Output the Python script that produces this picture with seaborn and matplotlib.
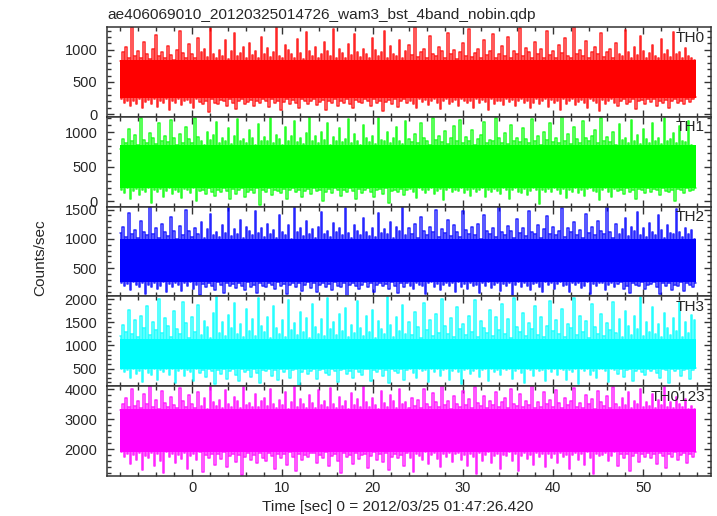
import matplotlib
matplotlib.use("Agg")
import matplotlib.pyplot as plt
import numpy as np
import seaborn as sns
from matplotlib.ticker import MultipleLocator

# light curves: alternating bin maxima (hi) and minima (lo)
th0_hi = [830, 960, 1040, 880, 1350, 910, 990, 870, 1120, 940, 860, 1010, 1230, 900, 970, 880,
          1060, 920, 850, 1000, 1290, 950, 880, 1090, 930, 870, 1180, 960, 1020, 890, 1340, 940,
          870, 1000, 910, 1150, 860, 980, 1260, 900, 950, 1040, 880, 1110, 920, 990, 870, 1200,
          940, 1030, 890, 960, 1350, 910, 870, 1070, 1000, 930, 880, 1170, 950, 860, 1280, 990,
          900, 1050, 870, 940, 1130, 980, 910, 1320, 880, 1010, 950, 870, 1090, 920, 1240, 960,
          890, 1020, 930, 870, 1190, 1000, 900, 960, 1300, 880, 1060, 940, 910, 1150, 870, 990,
          1080, 920, 1350, 890, 960, 1010, 870, 1210, 940, 900, 1040, 980, 880, 1270, 930, 1000,
          860, 970, 1100, 910, 1330, 890, 950, 1020, 870, 1160, 920, 990, 1250, 880, 940, 1060,
          910, 1200, 870, 980, 930, 1340, 900, 1030, 960, 880, 1120, 940, 1010, 870, 1290, 920,
          990, 880, 1070, 950, 1180, 900, 870, 1350, 940, 1000, 910, 1140, 880, 960, 1050, 930,
          1260, 890, 970, 1020, 870, 1110, 940, 900, 1310, 960, 880, 1040, 920, 1220, 990, 870,
          950, 1080, 910, 880, 1170, 940, 1000, 890, 1280, 930, 960, 870, 1030, 900, 880, 850]
th0_lo = [240, 180, 210, 130, 200, 160, 230, 90, 190, 220, 150, 240, 110, 200, 170, 230,
          60, 210, 180, 240, 140, 200, 220, 170, 100, 230, 190, 150, 210, 40, 240, 180,
          160, 220, 200, 120, 230, 180, 80, 210, 240, 150, 190, 220, 130, 200, 170, 240,
          200, 110, 230, 170, 210, 60, 190, 240, 150, 220, 180, 100, 230, 200, 160, 210,
          240, 140, 190, 220, 70, 200, 170, 230, 120, 210, 180, 240, 150, 90, 220, 190,
          170, 230, 200, 130, 240, 180, 210, 50, 190, 220, 160, 230, 110, 200, 240, 180,
          210, 160, 90, 230, 190, 220, 140, 200, 240, 170, 80, 210, 230, 150, 190, 220,
          130, 240, 200, 180, 210, 100, 230, 170, 220, 190, 60, 240, 160, 210, 200, 140,
          230, 190, 220, 120, 200, 240, 170, 210, 90, 180, 230, 150, 200, 240, 110, 220,
          180, 210, 70, 230, 160, 200, 240, 140, 190, 220, 180, 100, 230, 210, 170, 50,
          220, 150, 200, 240, 180, 120, 210, 230, 160, 190, 240, 80, 200, 220, 150, 230,
          190, 240, 130, 210, 180, 220, 100, 200, 240, 170, 210, 150, 230, 190, 240, 260]
th1_hi = [760, 900, 840, 1050, 870, 960, 820, 1200, 890, 850, 990, 920, 830, 1130, 880, 940,
          860, 1180, 910, 820, 970, 850, 1080, 900, 840, 1210, 930, 870, 810, 1010, 890, 960,
          1150, 850, 920, 880, 1060, 830, 950, 1190, 870, 900, 840, 1040, 910, 820, 1120, 880,
          930, 870, 1200, 850, 960, 900, 820, 1080, 880, 940, 1170, 860, 910, 830, 990, 1220,
          870, 950, 840, 1010, 890, 1140, 820, 930, 880, 1060, 860, 900, 1190, 840, 970, 880,
          820, 1100, 910, 860, 940, 830, 1210, 890, 870, 1000, 850, 920, 1070, 880, 830, 1160,
          900, 860, 980, 840, 1130, 910, 870, 820, 1200, 890, 950, 860, 1020, 830, 920, 1090,
          880, 1180, 850, 930, 870, 1040, 820, 900, 960, 1150, 840, 890, 870, 1210, 910, 850,
          990, 830, 1110, 880, 920, 860, 1060, 900, 840, 1190, 870, 950, 820, 1000, 890, 1140,
          860, 910, 840, 1220, 880, 970, 830, 1080, 900, 850, 1170, 920, 870, 940, 1030, 840,
          1200, 880, 930, 860, 1010, 820, 1120, 890, 910, 850, 1180, 870, 960, 830, 1050, 900,
          850, 1140, 880, 920, 830, 1210, 870, 900, 990, 840, 1090, 880, 860, 1160, 820, 780]
th1_lo = [160, 120, 190, 30, 150, 180, 90, 170, 140, 190, -20, 160, 130, 180, 60, 150,
          190, 110, 170, 140, 50, 180, 160, 120, 190, 0, 150, 170, 100, 190, 140, 80,
          170, 130, 190, 150, 40, 180, 110, 160, 190, 70, 140, 170, 120, 190, -50, 160,
          140, 190, 90, 170, 150, 120, 180, 30, 160, 190, 130, 170, 60, 150, 180, 110,
          190, 150, 170, 10, 140, 180, 120, 190, 160, 80, 170, 130, 190, 150, 40, 180,
          120, 170, 190, 140, 70, 160, 180, 110, 190, -30, 150, 170, 130, 180, 90, 160,
          180, 140, 50, 190, 160, 120, 170, 190, 100, 150, 180, 20, 160, 190, 130, 170,
          150, 190, 120, 170, 80, 180, 140, 160, 190, 60, 170, 130, 180, 150, 110, 190,
          170, 30, 160, 190, 140, 120, 180, 90, 150, 190, 170, -40, 160, 130, 180, 140,
          190, 160, 110, 180, 50, 170, 140, 190, 120, 160, 80, 180, 190, 150, 130, 20,
          160, 190, 140, 70, 180, 150, 170, 110, 190, 130, 160, 40, 180, 170, 120, 190,
          140, 180, 160, 90, 190, 150, 130, 170, 0, 180, 160, 120, 190, 150, 170, 200]
th2_hi = [1100, 1200, 1030, 1450, 1080, 1150, 1010, 1300, 1120, 1060, 1550, 1090, 1180, 1020, 1250, 1110,
          1050, 1380, 1130, 1000, 1220, 1070, 1500, 1140, 1040, 1190, 1090, 1280, 1010, 1160, 1420, 1060,
          1120, 1030, 1240, 1100, 1550, 1050, 1170, 1080, 1330, 1020, 1210, 1130, 1060, 1480, 1100, 1190,
          1040, 1260, 1090, 1150, 1010, 1400, 1120, 1070, 1230, 1000, 1550, 1110, 1180, 1050, 1310, 1080,
          1160, 1020, 1200, 1460, 1090, 1130, 1040, 1270, 1110, 1180, 1060, 1520, 1100, 1010, 1240, 1140,
          1070, 1350, 1120, 1050, 1190, 1030, 1440, 1100, 1160, 1080, 1290, 1020, 1210, 1130, 1550, 1060,
          1190, 1090, 1250, 1010, 1370, 1140, 1070, 1210, 1110, 1500, 1040, 1170, 1100, 1320, 1050, 1230,
          1120, 1030, 1480, 1150, 1080, 1200, 1060, 1260, 1000, 1410, 1130, 1090, 1180, 1040, 1550, 1110,
          1070, 1220, 1140, 1020, 1340, 1100, 1190, 1050, 1470, 1120, 1080, 1240, 1010, 1160, 1390, 1090,
          1200, 1060, 1130, 1530, 1040, 1180, 1110, 1280, 1070, 1150, 1020, 1430, 1100, 1210, 1060, 1300,
          1140, 1080, 1550, 1120, 1010, 1250, 1090, 1170, 1360, 1050, 1200, 1130, 1460, 1070, 1190, 1030,
          1270, 1110, 1060, 1400, 1150, 1020, 1230, 1100, 1080, 1510, 1120, 1040, 1180, 1090, 1150, 1000]
th2_lo = [250, 190, 230, 120, 260, 210, 170, 240, 60, 220, 180, 250, 140, 200, 260, 90,
          230, 170, 250, 210, 110, 240, 190, 260, 150, 220, 40, 230, 180, 250, 200, 130,
          260, 210, 80, 240, 190, 230, 160, 250, 200, 120, 260, 180, 220, 70, 240, 200,
          170, 250, 220, 140, 260, 190, 230, 50, 210, 250, 180, 240, 110, 220, 260, 160,
          240, 90, 210, 250, 180, 230, 130, 260, 200, 170, 250, 30, 220, 240, 190, 150,
          220, 260, 170, 240, 100, 210, 250, 190, 230, 140, 260, 200, 80, 240, 180, 250,
          200, 150, 250, 220, 190, 60, 240, 260, 170, 230, 120, 210, 250, 190, 240, 90,
          260, 180, 230, 140, 250, 200, 220, 70, 240, 190, 260, 160, 210, 250, 110, 230,
          190, 250, 40, 220, 260, 170, 240, 200, 130, 230, 250, 180, 90, 260, 210, 240,
          150, 230, 260, 190, 220, 100, 250, 210, 240, 160, 200, 260, 60, 230, 190, 250,
          240, 120, 210, 250, 180, 230, 260, 150, 200, 80, 240, 220, 190, 260, 140, 210,
          230, 260, 170, 50, 240, 200, 250, 130, 220, 190, 260, 110, 240, 210, 180, 250]
th3_hi = [1200, 1450, 1300, 1780, 1250, 1550, 1180, 1650, 1380, 1850, 1220, 1500, 1330, 2000, 1270, 1600,
          1420, 1190, 1750, 1350, 1260, 1950, 1480, 1160, 1620, 1300, 1880, 1230, 1540, 1400, 1170, 1700,
          2050, 1280, 1510, 1200, 1660, 1370, 1930, 1240, 1460, 1180, 1790, 1320, 1570, 1210, 2020, 1430,
          1290, 1620, 1160, 1850, 1390, 1250, 1550, 1190, 1990, 1340, 1480, 1220, 1720, 1300, 1600, 1170,
          1900, 1410, 1260, 1580, 1200, 2040, 1360, 1500, 1230, 1680, 1320, 1810, 1180, 1450, 1270, 1960,
          1380, 1210, 1640, 1290, 1760, 1170, 1530, 1350, 1240, 2050, 1440, 1190, 1610, 1310, 1870, 1260,
          1500, 1230, 1730, 1400, 1160, 1920, 1330, 1560, 1200, 1690, 1280, 2010, 1420, 1250, 1590, 1180,
          1840, 1360, 1470, 1220, 1650, 1300, 1980, 1190, 1540, 1390, 1270, 1770, 1210, 1620, 1340, 1900,
          1240, 1580, 1170, 2040, 1410, 1290, 1700, 1200, 1490, 1350, 1860, 1230, 1610, 1180, 1430, 1970,
          1320, 1550, 1260, 1800, 1190, 1470, 1380, 2030, 1220, 1640, 1300, 1530, 1170, 1910, 1400, 1250,
          1680, 1210, 1490, 1340, 1950, 1270, 1570, 1180, 1750, 1420, 1230, 1630, 1360, 2050, 1200, 1510,
          1290, 1830, 1250, 1460, 1180, 1710, 1370, 1220, 1600, 1310, 1940, 1190, 1520, 1280, 1660, 1550]
th3_lo = [500, 430, 470, 300, 490, 380, 450, 200, 480, 410, 350, 500, 260, 460, 420, 490,
          370, 480, 180, 450, 500, 330, 470, 420, 240, 490, 400, 460, 310, 500, 440, 160,
          470, 390, 500, 280, 450, 480, 360, 220, 490, 430, 460, 320, 500, 410, 190, 470,
          440, 500, 340, 470, 250, 480, 420, 490, 300, 460, 500, 150, 430, 480, 380, 450,
          490, 270, 460, 500, 410, 350, 480, 440, 210, 470, 500, 390, 450, 290, 490, 430,
          360, 480, 500, 230, 460, 420, 490, 330, 470, 180, 500, 440, 400, 480, 260, 460,
          500, 410, 300, 490, 450, 470, 200, 480, 430, 500, 340, 460, 490, 250, 440, 480,
          420, 170, 470, 500, 380, 450, 490, 310, 460, 500, 240, 480, 430, 470, 350, 500,
          460, 490, 280, 450, 500, 410, 190, 480, 470, 330, 500, 440, 460, 220, 490, 420,
          480, 350, 500, 460, 260, 470, 430, 490, 160, 480, 450, 500, 370, 440, 300, 490,
          500, 440, 210, 480, 460, 390, 500, 320, 470, 490, 240, 450, 500, 430, 360, 480,
          450, 490, 400, 290, 500, 460, 180, 480, 440, 500, 340, 470, 490, 270, 460, 520]
th0123_hi = [3300, 3500, 3700, 3400, 4000, 3450, 3600, 3380, 3850, 3500, 4100, 3420, 3650, 3350, 3950, 3550,
             3400, 3750, 3480, 3360, 4050, 3600, 3420, 3800, 3520, 3380, 3900, 3450, 3700, 3350, 4100, 3560,
             3440, 3650, 3370, 3980, 3500, 3400, 3750, 3600, 3360, 4080, 3480, 3550, 3410, 3850, 3390, 3620,
             3700, 3430, 4000, 3520, 3380, 3650, 3460, 3900, 3350, 3580, 4100, 3420, 3680, 3500, 3370, 3820,
             3540, 3360, 3960, 3470, 3620, 3400, 4050, 3510, 3380, 3740, 3450, 3590, 3350, 3880, 3480, 3660,
             3420, 4100, 3560, 3390, 3700, 3470, 3350, 3930, 3530, 3410, 3800, 3600, 3370, 4020, 3490, 3560,
             3380, 3720, 3440, 3640, 3360, 3990, 3500, 3420, 3860, 3560, 3390, 4100, 3470, 3610, 3350, 3780,
             3520, 3400, 3940, 3460, 3670, 3380, 4060, 3540, 3430, 3760, 3360, 3600, 3480, 3910, 3410, 3580,
             3700, 3370, 4000, 3510, 3440, 3830, 3390, 3620, 3470, 4100, 3360, 3560, 3420, 3890, 3500, 3650,
             3400, 3970, 3530, 3380, 3720, 3460, 3600, 4040, 3410, 3550, 3370, 3820, 3490, 3660, 3350, 3950,
             3580, 3430, 3780, 3360, 4080, 3500, 3410, 3690, 3470, 3900, 3380, 3620, 3520, 4000, 3400, 3560,
             3450, 3850, 3370, 3640, 3480, 4100, 3400, 3570, 3360, 3750, 3510, 3420, 3680, 3350, 3450, 3350]
th0123_lo = [1900, 1750, 1850, 1500, 1800, 1650, 1880, 1300, 1780, 1700, 1860, 1450, 1820, 1600, 1200, 1890,
             1720, 1850, 1550, 1800, 1680, 1880, 1350, 1760, 1840, 1620, 1890, 1250, 1790, 1700, 1850, 1480,
             1830, 1660, 1890, 1400, 1770, 1850, 1580, 1810, 1150, 1740, 1880, 1640, 1800, 1520, 1870, 1710,
             1600, 1880, 1780, 1330, 1850, 1690, 1820, 1470, 1890, 1750, 1280, 1840, 1630, 1800, 1720, 1870,
             1860, 1540, 1810, 1700, 1890, 1420, 1780, 1830, 1610, 1200, 1870, 1740, 1800, 1500, 1880, 1680,
             1790, 1850, 1370, 1760, 1890, 1640, 1820, 1560, 1870, 1300, 1730, 1850, 1690, 1800, 1450, 1880,
             1710, 1250, 1840, 1780, 1620, 1890, 1500, 1800, 1860, 1680, 1390, 1830, 1750, 1880, 1570, 1820,
             1880, 1650, 1790, 1430, 1850, 1720, 1180, 1870, 1600, 1810, 1890, 1530, 1770, 1840, 1350, 1800,
             1760, 1890, 1590, 1830, 1270, 1780, 1860, 1670, 1800, 1480, 1880, 1720, 1820, 1400, 1850, 1700,
             1850, 1550, 1880, 1740, 1810, 1320, 1790, 1870, 1640, 1830, 1460, 1890, 1700, 1160, 1840, 1780,
             1800, 1870, 1610, 1760, 1890, 1440, 1820, 1690, 1850, 1260, 1780, 1880, 1570, 1830, 1730, 1860,
             1690, 1840, 1500, 1880, 1770, 1380, 1850, 1720, 1890, 1620, 1800, 1860, 1540, 1820, 1750, 1900]

bands = ["TH0", "TH1", "TH2", "TH3", "TH0123"]
highs = [th0_hi, th1_hi, th2_hi, th3_hi, th0123_hi]
lows = [th0_lo, th1_lo, th2_lo, th3_lo, th0123_lo]
# solid core of each light curve (counts/sec)
core_lo = [245, 195, 262, 500, 1895]
core_hi = [845, 810, 1000, 1150, 3340]

t_start, t_stop = -8.0, 56.0
colors = ["#ff0000", "#00ff00", "#0000ff", "#00ffff", "#ff00ff"]
ylims = [(-42, 1357), (-76, 1224), (17, 1551), (117, 2065), (1100, 4100)]
major = [500, 500, 500, 500, 1000]
minor = [100, 100, 100, 100, 200]

sns.set_style("ticks")
plt.rcParams["font.family"] = ["Liberation Sans", "DejaVu Sans"]

fig, axes = plt.subplots(5, 1, figsize=(7.17, 5.16), dpi=100, sharex=True)
fig.subplots_adjust(left=0.1492, right=0.9916, top=0.9477, bottom=0.0775, hspace=0)

for ax, name, hi, lo, col, c_lo, c_hi, yl, mj, mn in zip(
        axes, bands, highs, lows, colors, core_lo, core_hi, ylims, major, minor):
    vals = np.empty(len(hi) + len(lo))
    vals[0::2] = hi
    vals[1::2] = lo
    time = np.linspace(t_start, t_stop, len(vals), endpoint=False)
    ax.fill_between([t_start, time[-1]], c_lo, c_hi, color=col, lw=0)
    sns.lineplot(x=time, y=vals, ax=ax, color=col, lw=1.1, alpha=0.85,
                 drawstyle="steps-mid")
    ax.set_ylim(*yl)
    ax.set_xlim(-9.45, 57.5)
    ax.yaxis.set_major_locator(MultipleLocator(mj))
    ax.yaxis.set_minor_locator(MultipleLocator(mn))
    ax.xaxis.set_major_locator(MultipleLocator(10))
    ax.xaxis.set_minor_locator(MultipleLocator(2))
    ax.tick_params(which="both", direction="in", top=True, right=True,
                   color="#333333", width=1.0, labelsize=10.5)
    ax.tick_params(axis="y", which="major", pad=7)
    ax.tick_params(which="major", length=5)
    ax.tick_params(which="minor", length=3)
    for s in ax.spines.values():
        s.set_linewidth(1.1)
        s.set_color("#333333")
    ax.set_ylabel("")
    ax.text(0.99, 0.96, name, transform=ax.transAxes, ha="right", va="top", fontsize=11.1)

axes[-1].set_xlabel("")
fig.text(0.1492, 0.97, "ae406069010_20120325014726_wam3_bst_4band_nobin.qdp",
         ha="left", va="center", fontsize=11.1)
fig.text(0.554, 0.018, "Time [sec] 0 = 2012/03/25 01:47:26.420", ha="center", va="center", fontsize=11.1)
fig.text(0.056, 0.5, "Counts/sec", rotation=90, ha="center", va="center", fontsize=11.1)

fig.savefig("out.png", dpi=100)
